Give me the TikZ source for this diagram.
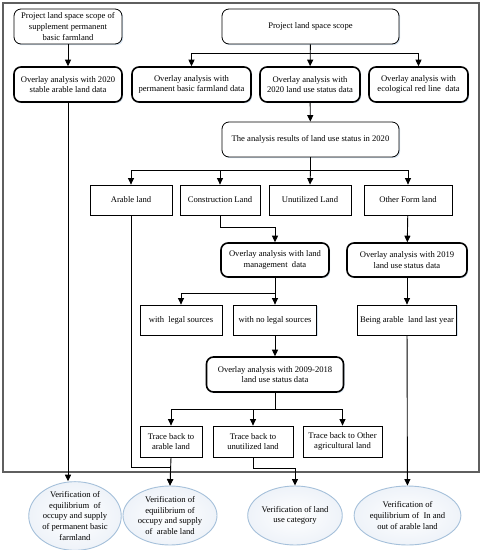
\documentclass[tikz,border=0pt]{standalone}
\usepackage{fontspec}
\setmainfont{Liberation Serif}
\usetikzlibrary{arrows.meta,shapes.geometric,shadows}
\definecolor{glow}{RGB}{214,228,242}
\definecolor{ellfill}{RGB}{216,227,240}
\definecolor{ellmid}{RGB}{236,241,248}
\definecolor{elldraw}{RGB}{165,192,218}
\definecolor{framec}{RGB}{95,95,95}
\pgfdeclareradialshading{ellshade}{\pgfpoint{0bp}{0bp}}{color(0bp)=(white); color(28bp)=(ellmid); color(50bp)=(ellfill)}
\begin{document}
\begin{tikzpicture}[x=1pt,y=-1pt,
  every node/.style={font=\fontsize{8.6}{10.6}\selectfont, align=center, inner sep=0pt},
  base/.style={draw=black, fill=white, general shadow={shadow xshift=1.2pt, shadow yshift=-1.2pt, fill=glow}},
  thinr/.style={base, rounded corners=7pt, line width=0.8pt},
  thickr/.style={base, rounded corners=7pt, line width=1.6pt},
  rbox/.style={base, line width=0.8pt},
  ell/.style={ellipse, draw=elldraw, line width=0.9pt, shading=ellshade},
  arr/.style={line width=0.9pt, -{Triangle[length=6.5pt,width=6pt]}},
  ln/.style={line width=0.9pt}]
\useasboundingbox (0,0) rectangle (484,550);
\draw[framec, line width=1.4pt] (3,3) rectangle (479,472);

\node[thinr, minimum width=108pt, minimum height=35pt] (p1) at (68,26.5) {Project land space scope of\\supplement permanent\\basic farmland};
\node[thinr, minimum width=177pt, minimum height=35pt] (p2) at (310.5,26.5) {Project land space scope};
\node[thickr, minimum width=108pt, minimum height=35pt] (o1) at (68,84.5) {Overlay analysis with 2020\\stable arable land data};
\node[thickr, minimum width=119pt, minimum height=35pt] (o2) at (191.5,84.5) {Overlay analysis with\\permanent basic farmland data};
\node[thickr, minimum width=100pt, minimum height=35pt] (o3) at (310,84.5) {Overlay analysis with\\2020 land use status data};
\node[thickr, minimum width=99pt, minimum height=35pt] (o4) at (418.5,84.5) {Overlay analysis with\\ecological red line~ data};
\node[thinr, minimum width=177pt, minimum height=35pt] (res) at (310.5,139.5) {The analysis results of land use status in 2020};

\node[rbox, minimum width=82pt, minimum height=30pt] (arable) at (131,200) {Arable land};
\node[rbox, minimum width=80pt, minimum height=30pt] (constr) at (220,200) {Construction Land};
\node[rbox, minimum width=82pt, minimum height=30pt] (unut) at (310,200) {Unutilized Land};
\node[rbox, minimum width=88pt, minimum height=30pt] (other) at (408,200) {Other Form land};

\node[thickr, minimum width=108pt, minimum height=34pt] (mgmt) at (275,260) {Overlay analysis with land\\management~ data};
\node[thickr, minimum width=120pt, minimum height=34pt] (o19) at (407,260) {Overlay analysis with 2019\\land use status data};

\node[rbox, minimum width=82pt, minimum height=30pt] (legal) at (181,320) {with~ legal sources};
\node[rbox, minimum width=83pt, minimum height=30pt] (nolegal) at (275,320) {with no legal sources};
\node[rbox, minimum width=99pt, minimum height=30pt] (being) at (407,320) {Being arable~ land last year};

\node[thickr, minimum width=137pt, minimum height=35pt] (o918) at (275,374.5) {Overlay analysis with 2009-2018\\land use status data};

\node[rbox, minimum width=62pt, minimum height=31pt] (tarable) at (171,441.5) {Trace back to\\arable land};
\node[rbox, minimum width=80pt, minimum height=31pt] (tunut) at (253,441.5) {Trace back to\\unutilized land};
\node[rbox, minimum width=79pt, minimum height=31pt] (tother) at (342.5,441.5) {Trace back to Other\\agricultural land};

\node[ell, minimum width=78pt, minimum height=59pt] (e1) at (75,516) {Verification of\\equilibrium~ of\\occupy and supply\\of permanent basic\\farmland};
\node[ell, minimum width=94pt, minimum height=59pt] (e2) at (170,515.5) {Verification of\\equilibrium of\\occupy and supply\\of~ arable land};
\node[ell, minimum width=91pt, minimum height=59pt] (e3) at (295,515.5) {Verification of land\\use category};
\node[ell, minimum width=98pt, minimum height=59pt] (e4) at (407.5,515.5) {Verification of\\equilibrium of~ In and\\out of arable land};

\coordinate (b1) at (310.5,53);
\coordinate (b2) at (310.5,170);
\coordinate (b3) at (275,293);
\coordinate (b4) at (275,409);

\draw[arr] (p1) -- (o1);
\draw[arr] (p2) -- (o3);
\draw[arr] (b1) -| (o2.north);
\draw[arr] (b1) -| (o4.north);
\draw[arr] (o3) -- (res);
\draw[ln] (res.south) -- (b2);
\draw[arr] (b2) -| (arable.north);
\draw[arr] (b2) -| (constr.north);
\draw[arr] (b2) -- (unut.north);
\draw[arr] (b2) -| (other.north);
\draw[arr] (constr.south) -- ++(0,12) -| (mgmt.north);
\draw[arr] (other) -- (o19);
\draw[arr] (o19) -- (being);
\draw[arr] (mgmt) -- (nolegal);
\draw[arr] (b3) -| (legal.north);
\draw[arr] (nolegal) -- (o918);
\draw[ln] (o918.south) -- (b4);
\draw[arr] (b4) -| (tarable.north);
\draw[arr] (b4) -| (tunut.north);
\draw[arr] (b4) -| (tother.north);
\draw[arr] (o1.south) -- (e1.north -| o1.south);
\draw[arr] (arable.south) -- ++(0,252) -| (e2.north);
\draw[arr] (tarable.south) -- (e2.north);
\draw[arr] (tunut.south) -- ++(0,11) -| (e3.north);
\draw[arr] (being) -- (e4);
\end{tikzpicture}
\end{document}
